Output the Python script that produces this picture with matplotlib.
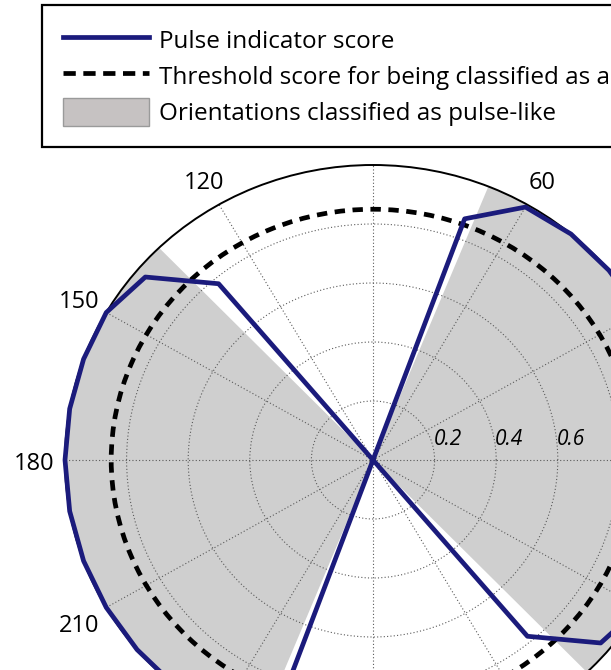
import numpy as np
import matplotlib
matplotlib.use("Agg")
import matplotlib.pyplot as plt
from matplotlib.lines import Line2D
from matplotlib.patches import Patch

plt.rcParams["font.family"] = ["Open Sans", "DejaVu Sans"]

# pulse indicator score for each rotation angle (deg)
angles_deg = [0, 10, 20, 30, 40, 50, 60, 70, 80, 90, 100, 110,
              120, 130, 140, 150, 160, 170, 180, 190, 200, 210, 220, 230,
              240, 250, 260, 270, 280, 290, 300, 310, 320, 330, 340, 350]
scores = [1.00, 1.00, 1.00, 1.00, 1.00, 1.00, 0.99, 0.87, 0.00, 0.00, 0.00, 0.00,
          0.00, 0.78, 0.965, 1.00, 1.00, 1.00, 1.00, 1.00, 1.00, 1.00, 1.00, 1.00,
          0.99, 0.87, 0.00, 0.00, 0.00, 0.00, 0.00, 0.78, 0.965, 1.00, 1.00, 1.00]
threshold = 0.85

# angular ranges (deg) where the score is above the threshold
pulse_ranges = [(-46, 68), (134, 248)]

angle_ticks = [0, 30, 60, 90, 120, 150, 180, 210, 240, 270, 300, 330]
angle_labels = ["0", "30", "60", "90", "120", "150", "180", "210", "240", "270", "300", "330"]
ring_ticks = [0.2, 0.4, 0.6, 0.8]
ring_labels = ["0.2", "0.4", "0.6", "0.8"]

navy = "#1b1b7c"
shade = "#cfcfcf"

fig = plt.figure(figsize=(6.11, 6.70), dpi=100)
ax = fig.add_axes([65 / 611, (670 - 755) / 670, 616 / 611, 590 / 670], projection="polar")
ax.set_aspect("auto")
ax.set_ylim(0, 1)

ax.set_xticks(np.radians(angle_ticks))
ax.set_xticklabels([])
ax.set_yticks(ring_ticks)
ax.set_yticklabels([])
ax.grid(True, color="#5a5a5a", linestyle=(0, (1, 2)), linewidth=0.8)
ax.spines["polar"].set_linewidth(1.4)
ax.spines["polar"].set_color("black")

# shaded pulse-like orientations
for lo, hi in pulse_ranges:
    ax.bar(np.radians((lo + hi) / 2), 1.0, width=np.radians(hi - lo), bottom=0,
           color=shade, edgecolor="none", linewidth=0)

# threshold circle
ax.axhline(threshold, color="black", linewidth=3.4, dashes=(2.2, 1.6), zorder=2.5)

theta = np.radians(angles_deg + angles_deg[:1])
r = scores + scores[:1]
ax.plot(theta, r, color=navy, linewidth=3.4, zorder=3, clip_on=False)

# angle labels (the one at 90 sits under the legend)
for a, lab in zip(angle_ticks, angle_labels):
    ax.annotate(lab, xy=(np.radians(a), 1.10), xytext=(0, -4), textcoords="offset pixels",
                ha="center", va="center", fontsize=17, annotation_clip=False)

for rv, lab in zip(ring_ticks, ring_labels):
    ax.annotate(lab, xy=(0, rv), xytext=(-1, 15), textcoords="offset pixels",
                ha="left", va="baseline", fontsize=15, style="italic")

handles = [
    Line2D([], [], color=navy, linewidth=3.4),
    Line2D([], [], color="black", linewidth=3.4, dashes=(2.6, 1.6)),
    Patch(facecolor="#c6c2c2", edgecolor="#9a9a9a"),
]
labels = ["Pulse indicator score",
          "Threshold score for being classified as a pulse",
          "Orientations classified as pulse-like"]
leg = fig.legend(handles, labels, loc="upper left", bbox_to_anchor=(42 / 611, 1 - 5 / 670),
                 borderaxespad=0, frameon=True, fancybox=False, edgecolor="black",
                 framealpha=1, fontsize=17.5, handlelength=3.55, handletextpad=0.38,
                 borderpad=0.87, labelspacing=0.32, handleheight=1.4)
leg.get_frame().set_linewidth(1.6)

fig.savefig("out.png", dpi=100)
